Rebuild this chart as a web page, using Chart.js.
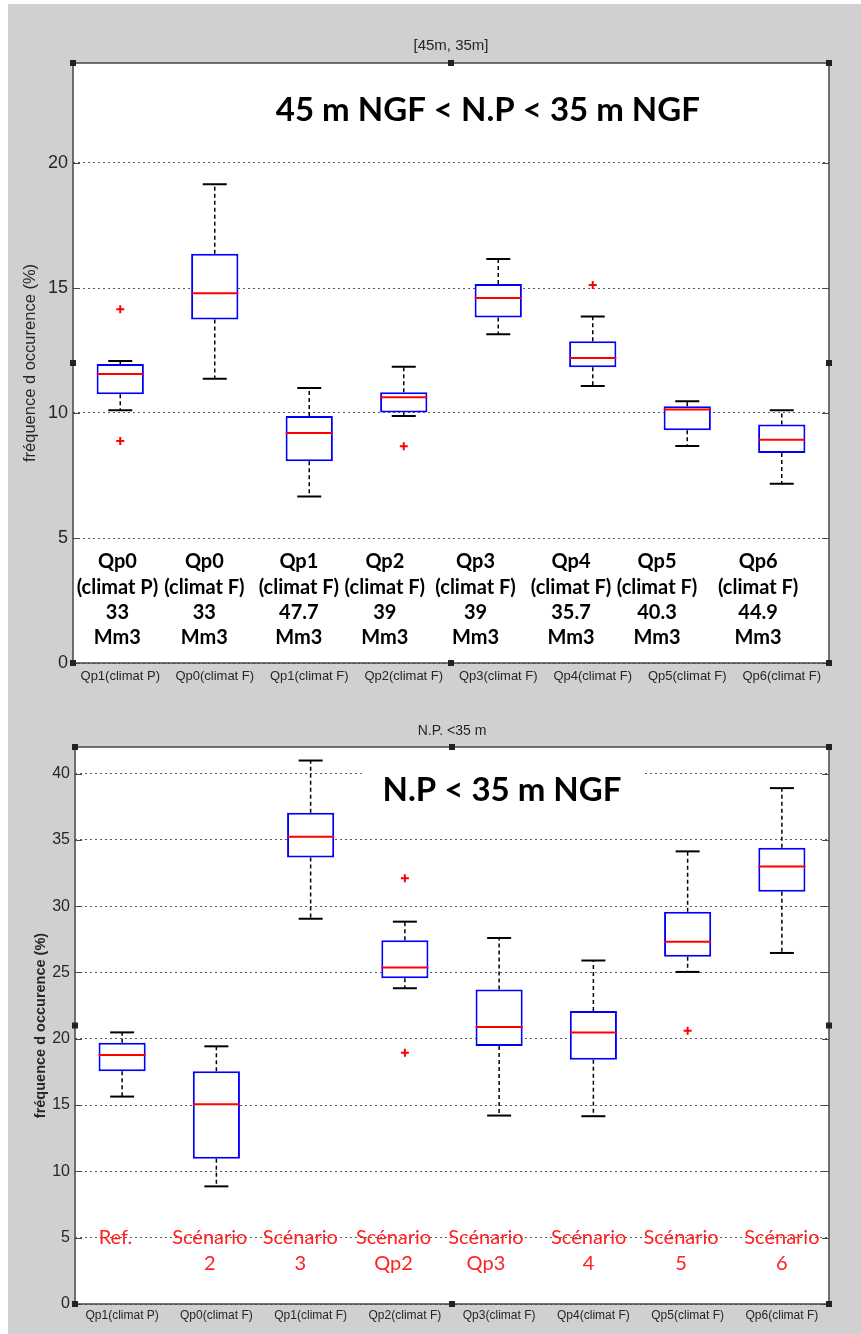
<!DOCTYPE html>
<html>
<head>
<meta charset="utf-8">
<script src="https://cdn.jsdelivr.net/npm/chart.js@4.4.0/dist/chart.umd.min.js"></script>
<style>
  html, body { margin: 0; padding: 0; background: #fff; }
  #panel { position: absolute; left: 8px; top: 4px; width: 853px; height: 1330px; background: #d0d0d0; }
  canvas { position: absolute; left: 0; }
</style>
</head>
<body>
<div id="panel"></div>
<canvas id="topChart" width="861" height="700" style="top:0"></canvas>
<canvas id="botChart" width="861" height="634" style="top:700px"></canvas>
<script>
const labels = ["Qp1(climat P)", "Qp0(climat F)", "Qp1(climat F)", "Qp2(climat F)",
  "Qp3(climat F)", "Qp4(climat F)", "Qp5(climat F)", "Qp6(climat F)"];

// [45m, 35m]
const topLo  = [10.11, 11.37, 6.66, 9.88, 13.15, 11.08, 8.68, 7.17];
const topQ1  = [10.75, 13.74, 8.07, 10.02, 13.82, 11.83, 9.31, 8.40];
const topMed = [11.56, 14.79, 9.20, 10.63, 14.60, 12.20, 10.14, 8.93];
const topQ3  = [11.96, 16.37, 9.88, 10.83, 15.16, 12.87, 10.27, 9.54];
const topHi  = [12.08, 19.15, 11.00, 11.85, 16.16, 13.86, 10.47, 10.11];
const topOut = [[14.15, 8.88], [], [], [8.67], [], [15.12], [], []];

// N.P. <35 m
const botLo  = [15.64, 8.87, 29.05, 23.81, 14.21, 14.16, 25.04, 26.47];
const botQ1  = [17.55, 10.95, 33.66, 24.56, 19.45, 18.42, 26.19, 31.08];
const botMed = [18.77, 15.07, 35.24, 25.37, 20.88, 20.48, 27.32, 32.98];
const botQ3  = [19.70, 17.55, 37.05, 27.42, 23.71, 22.10, 29.58, 34.41];
const botHi  = [20.48, 19.43, 40.98, 28.83, 27.60, 25.90, 34.13, 38.90];
const botOut = [[], [], [], [32.1, 18.95], [], [], [20.6], []];

// text written inside the plots
const topNoteName = ["Qp0", "Qp0", "Qp1", "Qp2", "Qp3", "Qp4", "Qp5", "Qp6"];
const topNoteClim = ["(climat P)", "(climat F)", "(climat F)", "(climat F)", "(climat F)", "(climat F)", "(climat F)", "(climat F)"];
const topNoteVol  = ["33", "33", "47.7", "39", "39", "35.7", "40.3", "44.9"];
const topNoteUnit = ["Mm3", "Mm3", "Mm3", "Mm3", "Mm3", "Mm3", "Mm3", "Mm3"];
const topNoteX = [-0.03, 0.89, 1.89, 2.80, 3.76, 4.77, 5.68, 6.75];
const botNote1 = ["Ref.", "Scénario", "Scénario", "Scénario", "Scénario", "Scénario", "Scénario", "Scénario"];
const botNote2 = ["", "2", "3", "Qp2", "Qp3", "4", "5", "6"];
const botNoteX = [-0.07, 0.93, 1.89, 2.88, 3.86, 4.95, 5.93, 7.0];

const sans = "'Liberation Sans', Arial, sans-serif";

const framePlugin = {
  id: "frame",
  beforeDraw(chart) {
    const { ctx, chartArea: a } = chart;
    ctx.save();
    ctx.fillStyle = "#fff";
    ctx.fillRect(a.left, a.top, a.right - a.left, a.bottom - a.top);
    ctx.restore();
  },
  afterDraw(chart) {
    const { ctx, chartArea: a, scales } = chart;
    ctx.save();
    ctx.strokeStyle = "#474747";
    ctx.lineWidth = 1.5;
    ctx.strokeRect(a.left, a.top, a.right - a.left, a.bottom - a.top);
    ctx.lineWidth = 1;
    scales.y.ticks.forEach(t => {
      const py = Math.round(scales.y.getPixelForValue(t.value)) + 0.5;
      ctx.beginPath();
      ctx.moveTo(a.left, py); ctx.lineTo(a.left + 7, py);
      ctx.moveTo(a.right, py); ctx.lineTo(a.right - 7, py);
      ctx.stroke();
    });
    ctx.fillStyle = "#222";
    const mx = (a.left + a.right) / 2, my = (a.top + a.bottom) / 2;
    [[a.left, a.top], [mx, a.top], [a.right, a.top], [a.left, my], [a.right, my],
     [a.left, a.bottom], [mx, a.bottom], [a.right, a.bottom]].forEach(([hx, hy]) => {
      ctx.fillRect(hx - 3, hy - 3, 6, 6);
    });
    ctx.restore();
  }
};

const notesPlugin = {
  id: "notes",
  beforeDatasetsDraw(chart, args, o) {
    if (!o.bigBox) return;
    const { ctx, scales: { x, y } } = chart;
    ctx.save();
    ctx.font = o.bigFont;
    const w = ctx.measureText(o.big).width + 42;
    const bx = x.getPixelForValue(o.bigAt[0]), by = y.getPixelForValue(o.bigAt[1]);
    ctx.fillStyle = "#fff";
    ctx.fillRect(bx - w / 2, by - 26, w, 52);
    ctx.restore();
  },
  afterDatasetsDraw(chart, args, o) {
    const { ctx, chartArea: a, scales: { x, y } } = chart;
    ctx.save();
    ctx.textAlign = "center";
    ctx.textBaseline = "middle";
    ctx.font = o.titleFont;
    ctx.fillStyle = "#262626";
    ctx.fillText(o.title, (a.left + a.right) / 2, a.top - o.titleGap);
    ctx.font = o.bigFont;
    ctx.fillStyle = "#000";
    ctx.fillText(o.big, x.getPixelForValue(o.bigAt[0]), y.getPixelForValue(o.bigAt[1]));
    ctx.font = o.noteFont;
    ctx.fillStyle = o.noteColor;
    o.lines.forEach((row, k) => {
      row.forEach((txt, i) => {
        ctx.fillText(txt, x.getPixelForValue(o.noteX[i]), y.getPixelForValue(o.noteY) + k * o.lineGap);
      });
    });
    ctx.restore();
  }
};

function boxDatasets(lo, q1, med, q3, hi, out) {
  const whisk = [], caps = [], meds = [], outs = [];
  labels.forEach((l, i) => {
    whisk.push({ x: l, y: q3[i] }, { x: l, y: hi[i] }, { x: l, y: null },
               { x: l, y: q1[i] }, { x: l, y: lo[i] }, { x: l, y: null });
    caps.push({ x: l, y: hi[i] }, { x: l, y: lo[i] });
    meds.push({ x: l, y: med[i] });
    out[i].forEach(v => outs.push({ x: l, y: v }));
  });
  return [
    { type: "line", data: meds, showLine: false, pointStyle: "line", pointRadius: 23.5,
      pointBorderColor: "#ff0000", pointBorderWidth: 2 },
    { type: "line", data: outs, showLine: false, pointStyle: "cross", pointRadius: 4,
      pointBorderColor: "#ff0000", pointBorderWidth: 2 },
    { type: "line", data: caps, showLine: false, pointStyle: "line", pointRadius: 12,
      pointBorderColor: "#000", pointBorderWidth: 2 },
    { type: "line", data: whisk, showLine: true, spanGaps: false, pointRadius: 0,
      borderColor: "#000", borderWidth: 1.5, borderDash: [4, 3] },
    { type: "bar", data: labels.map((l, i) => [q1[i], q3[i]]), backgroundColor: "#fff",
      borderColor: "#0000ff", borderWidth: 2, borderSkipped: false,
      barPercentage: 0.5, categoryPercentage: 1.0 }
  ];
}

function makeOptions(cfg) {
  return {
    responsive: false,
    animation: false,
    layout: { padding: { left: 0, right: 32, top: cfg.top, bottom: 0 } },
    plugins: { legend: { display: false }, tooltip: { enabled: false }, notes: cfg.notes },
    scales: {
      x: {
        type: "category", offset: true,
        grid: { display: false, drawTicks: false },
        border: { display: false },
        ticks: { padding: cfg.xPad, color: "#262626", maxRotation: 0, autoSkip: false,
                 font: { family: sans, size: cfg.xSize } },
        afterFit(s) { s.height = cfg.xHeight; }
      },
      y: {
        min: 0, max: cfg.max,
        grid: { color: "#5a5a5a", lineWidth: 1, drawTicks: false },
        border: { display: false, dash: [2, 3] },
        ticks: { stepSize: 5, includeBounds: false, padding: 5, color: "#262626",
                 font: { family: sans, size: cfg.yTickSize } },
        title: { display: true, text: "fréquence d occurence (%)", color: "#262626",
                 padding: { top: cfg.titlePad, bottom: 0 },
                 font: { family: sans, size: cfg.yTitleSize, weight: cfg.yTitleWeight } },
        afterFit(s) { s.width = cfg.yWidth; }
      }
    }
  };
}

new Chart(document.getElementById("topChart"), {
  type: "bar",
  data: { labels: labels, datasets: boxDatasets(topLo, topQ1, topMed, topQ3, topHi, topOut) },
  options: makeOptions({
    top: 63, max: 24, xHeight: 37, yWidth: 73, xPad: 6, xSize: 13,
    yTickSize: 18, yTitleSize: 16.5, yTitleWeight: "normal", titlePad: 21,
    notes: {
      title: "[45m, 35m]", titleFont: "15px " + sans, titleGap: 17,
      big: "45 m NGF < N.P < 35 m NGF", bigFont: "bold 33px Lato, sans-serif", bigAt: [3.89, 22.1], bigBox: false,
      lines: [topNoteName, topNoteClim, topNoteVol, topNoteUnit], noteX: topNoteX, noteY: 4.05, lineGap: 25.3,
      noteFont: "bold 20px Lato, sans-serif", noteColor: "#000"
    }
  }),
  plugins: [framePlugin, notesPlugin]
});

new Chart(document.getElementById("botChart"), {
  type: "bar",
  data: { labels: labels, datasets: boxDatasets(botLo, botQ1, botMed, botQ3, botHi, botOut) },
  options: makeOptions({
    top: 47, max: 42, xHeight: 30, yWidth: 75, xPad: 4, xSize: 12,
    yTickSize: 16, yTitleSize: 14.5, yTitleWeight: "bold", titlePad: 32,
    notes: {
      title: "N.P. <35 m", titleFont: "14px " + sans, titleGap: 16,
      big: "N.P < 35 m NGF", bigFont: "bold 33px Lato, sans-serif", bigAt: [4.03, 38.7], bigBox: true,
      lines: [botNote1, botNote2], noteX: botNoteX, noteY: 5.0, lineGap: 25.5,
      noteFont: "20px Lato, sans-serif", noteColor: "#ff2020"
    }
  }),
  plugins: [framePlugin, notesPlugin]
});
</script>
</body>
</html>
